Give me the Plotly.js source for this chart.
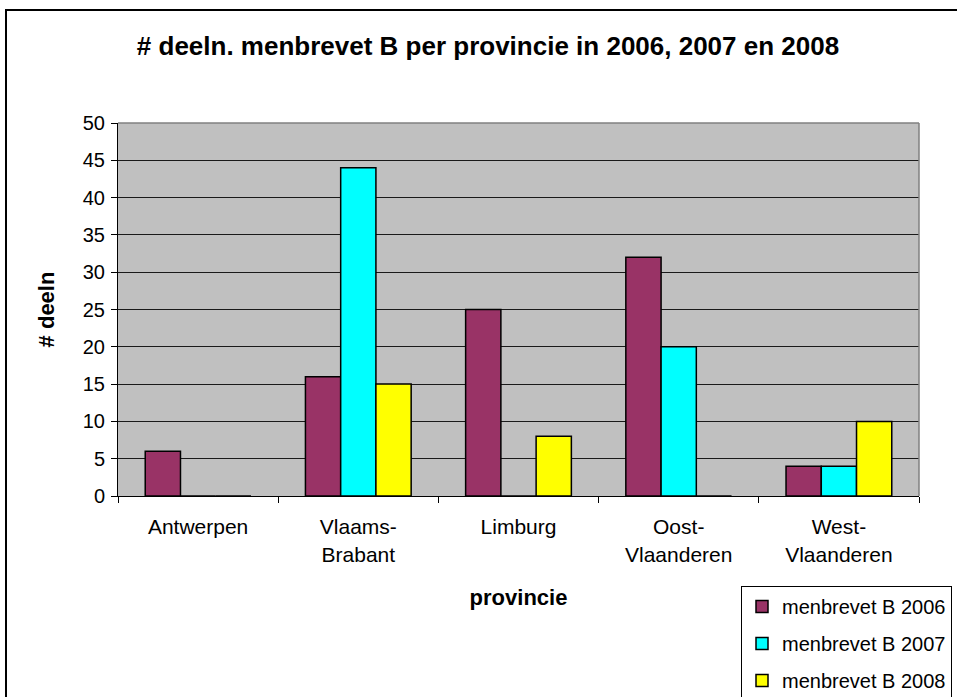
<!DOCTYPE html>
<html>
<head>
<meta charset="utf-8">
<script src="https://cdn.plot.ly/plotly-3.0.1.min.js"></script>
<style>html,body{margin:0;padding:0;background:#fff;}#chart{width:957px;height:697px;}</style>
</head>
<body>
<div id="chart"></div>
<script>
const categories = ["Antwerpen", "Vlaams-Brabant", "Limburg", "Oost-Vlaanderen", "West-Vlaanderen"];
const tickLabels = ["Antwerpen", "Vlaams-<br>Brabant", "Limburg", "Oost-<br>Vlaanderen", "West-<br>Vlaanderen"];
const seriesNames = ["menbrevet B 2006", "menbrevet B 2007", "menbrevet B 2008"];
const values2006 = [6, 16, 25, 32, 4];
const values2007 = [0, 44, 0, 20, 4];
const values2008 = [0, 15, 8, 0, 10];
const colors = ["#993366", "#00FFFF", "#FFFF00"];

const W = 957, H = 697;
const M = {l: 118, r: 38, t: 123, b: 201, autoexpand: false};
const PW = W - M.l - M.r, PH = H - M.t - M.b;
const px = x => (x - M.l) / PW;
const py = y => (H - M.b - y) / PH;

const allValues = [values2006, values2007, values2008];
const traces = allValues.map((v, i) => ({
  type: 'bar',
  name: seriesNames[i],
  x: categories,
  y: v,
  legendgroup: 'g' + i,
  marker: {color: colors[i], line: {color: '#000', width: 1.5}},
  hoverinfo: 'x+y+name'
}));

const font = 'Liberation Sans, Arial, sans-serif';

const layout = {
  width: W, height: H,
  margin: M,
  paper_bgcolor: '#fff',
  plot_bgcolor: '#C0C0C0',
  barmode: 'group',
  bargap: 0.34,
  bargroupgap: 0,
  font: {family: font, color: '#000', size: 20},
  title: {
    text: '<b># deeln. menbrevet B per provincie in 2006, 2007 en 2008</b>',
    font: {family: font, size: 26, color: '#000'},
    xref: 'container', yref: 'container',
    x: 488 / W, xanchor: 'center',
    y: 1 - 46 / H, yanchor: 'middle'
  },
  xaxis: {
    type: 'category',
    tickmode: 'array', tickvals: categories, ticktext: tickLabels,
    tickson: 'boundaries',
    ticks: 'outside', ticklen: 6, tickcolor: '#000', tickwidth: 1,
    showline: true, linecolor: '#000', linewidth: 1,
    showgrid: false,
    tickfont: {family: font, size: 21, color: '#000'},
    ticklabelstandoff: 12,
    title: {text: '<b>provincie</b>', font: {family: font, size: 22, color: '#000'}, standoff: 25}
  },
  yaxis: {
    range: [0, 50], dtick: 5, tick0: 0,
    ticks: 'outside', ticklen: 6, tickcolor: '#000', tickwidth: 1,
    showline: true, linecolor: '#000', linewidth: 1,
    showgrid: true, gridcolor: '#1a1a1a', gridwidth: 1,
    zeroline: false,
    tickfont: {family: font, size: 20, color: '#000'},
    ticklabelstandoff: 2,
    title: {text: '<b># deeln</b>', font: {family: font, size: 22, color: '#000'}, standoff: 22}
  },
  legend: {
    x: px(741), y: py(586), xanchor: 'left', yanchor: 'top',
    bgcolor: '#fff', bordercolor: '#000', borderwidth: 1,
    font: {family: font, size: 20, color: '#000'},
    traceorder: 'grouped', tracegroupgap: 8,
    itemwidth: 30
  },
  shapes: [
    {type: 'rect', xref: 'paper', yref: 'paper', x0: px(6), x1: px(962), y0: py(702), y1: py(10),
     line: {color: '#000', width: 2}, fillcolor: 'rgba(0,0,0,0)', layer: 'below'},
    {type: 'line', xref: 'paper', yref: 'paper', x0: 0, x1: 1, y0: 1, y1: 1, line: {color: '#808080', width: 1.5}},
    {type: 'line', xref: 'paper', yref: 'paper', x0: 1, x1: 1, y0: 0, y1: 1, line: {color: '#808080', width: 1.5}}
  ],
  showlegend: true
};

Plotly.newPlot('chart', traces, layout, {displayModeBar: false, staticPlot: true});
</script>
</body>
</html>
